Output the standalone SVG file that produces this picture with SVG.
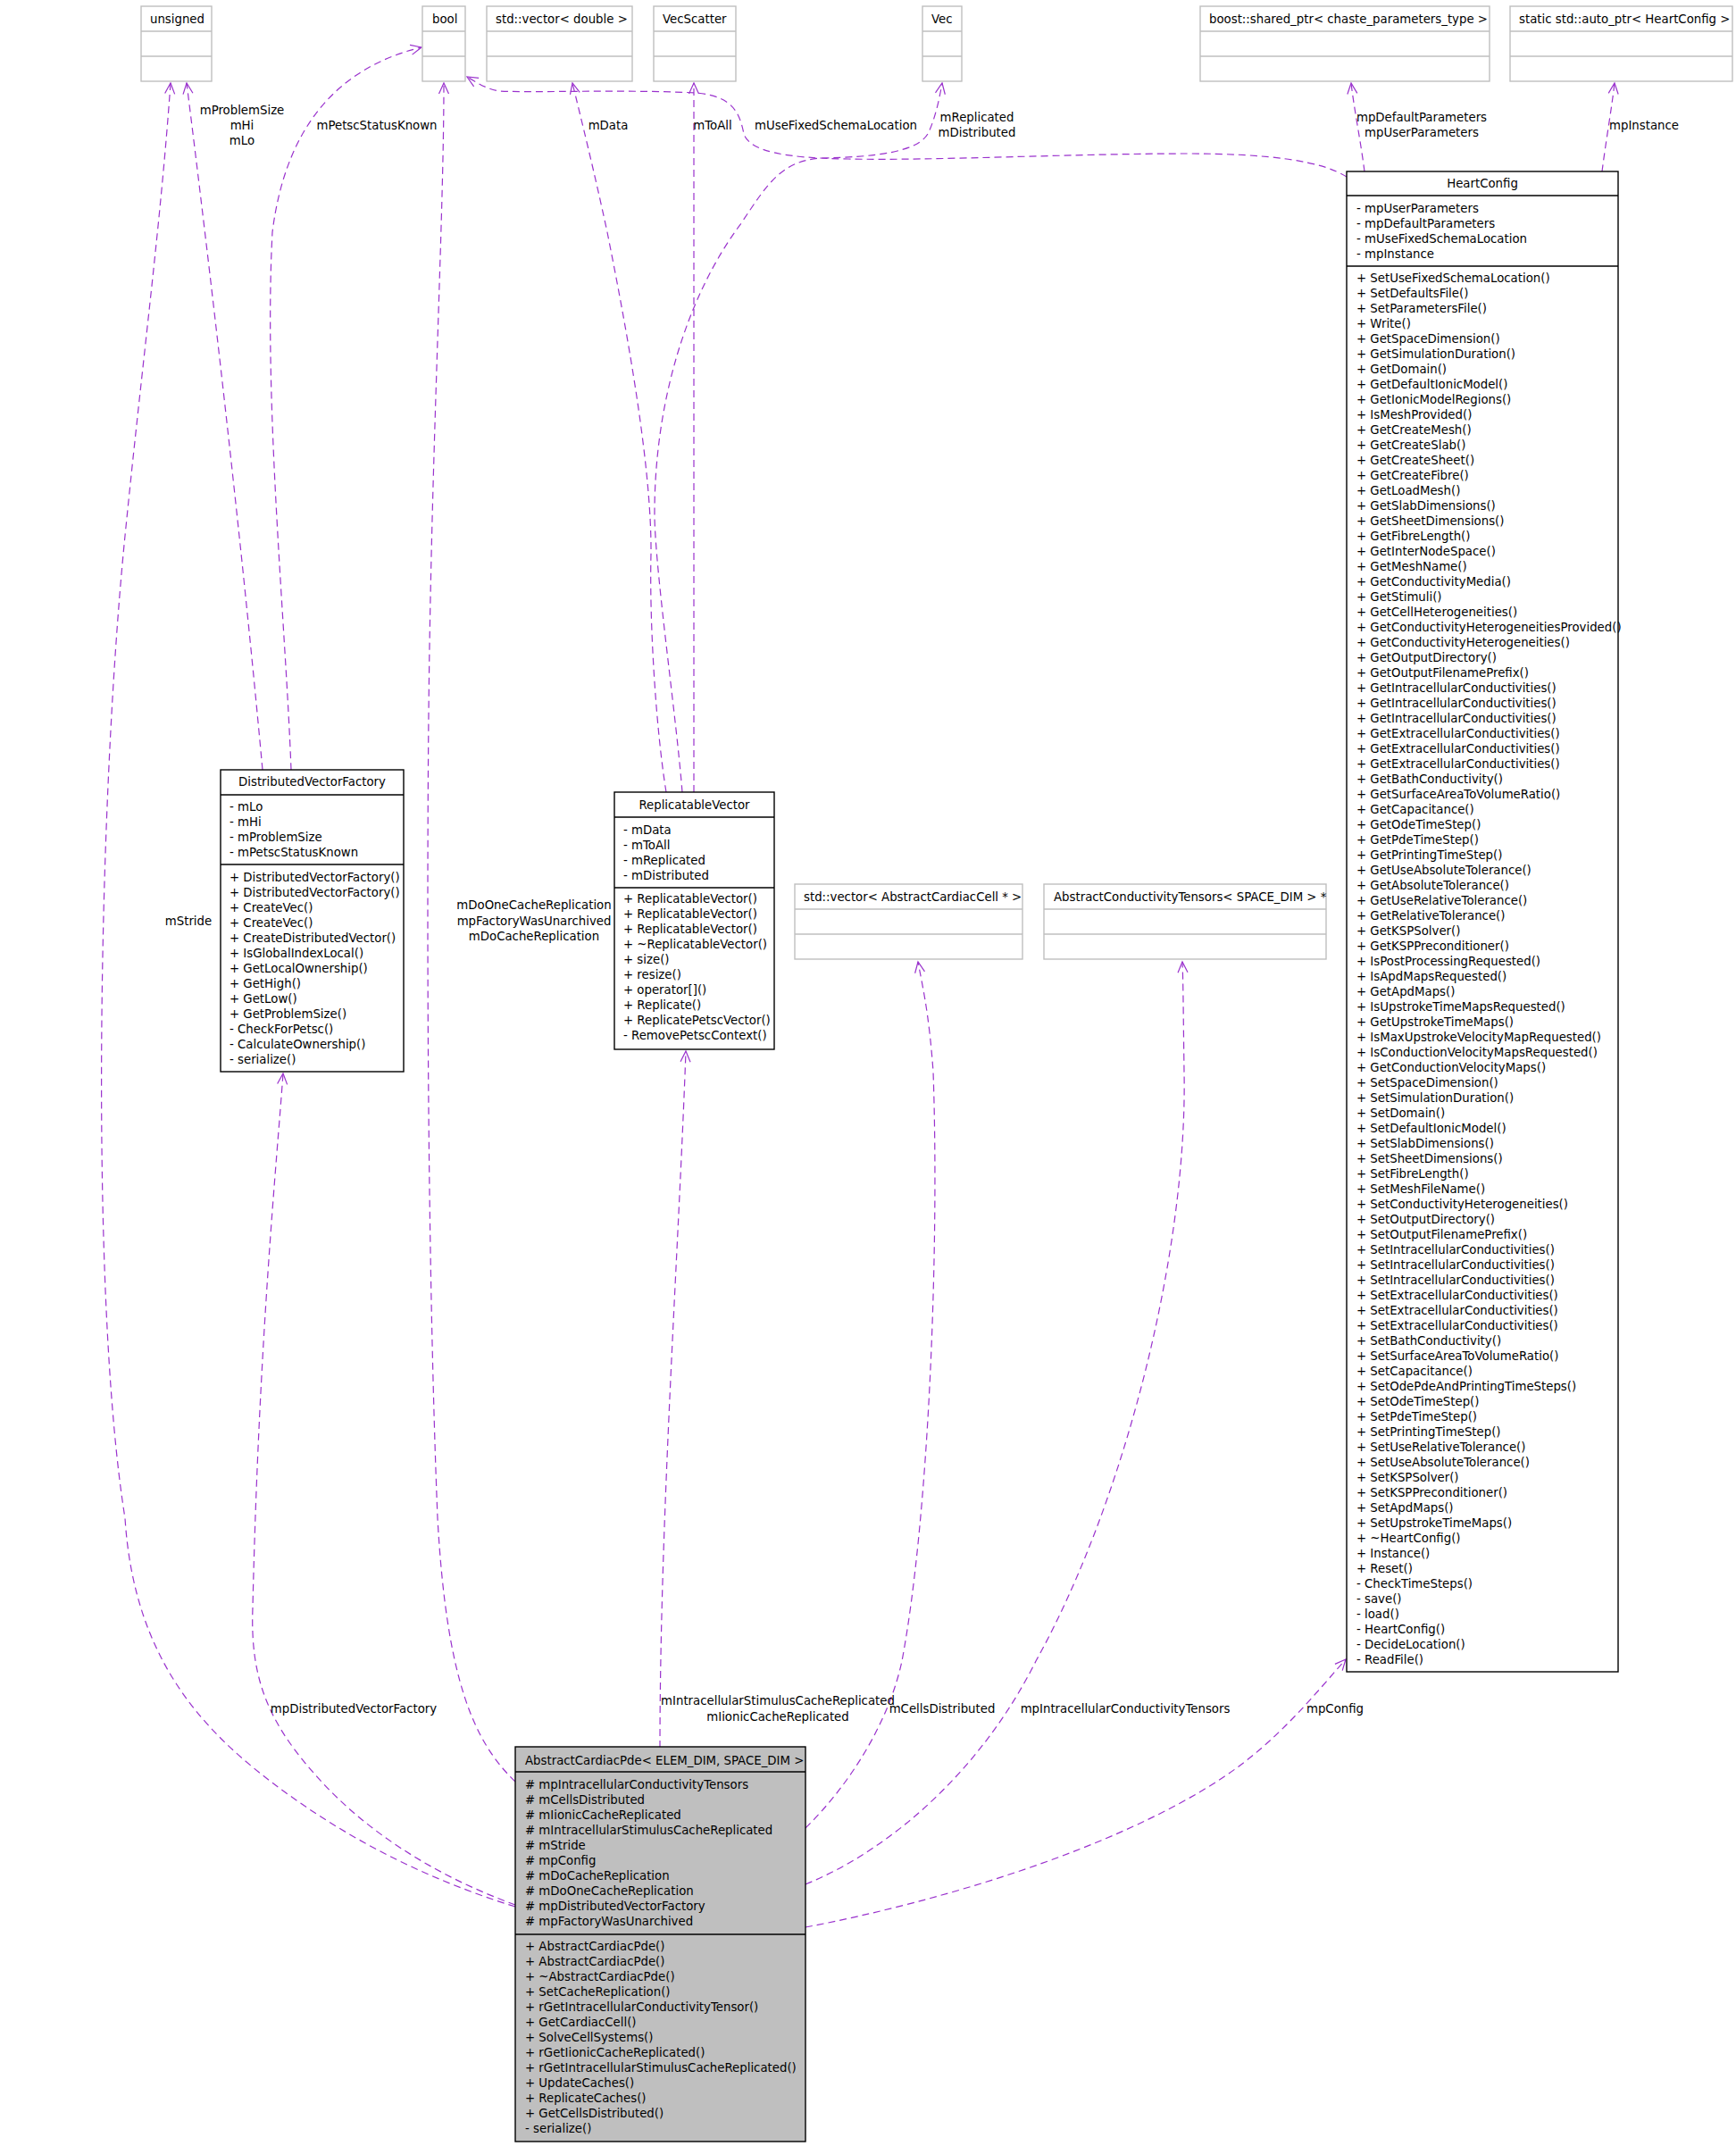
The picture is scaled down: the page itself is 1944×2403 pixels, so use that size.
<svg xmlns="http://www.w3.org/2000/svg" width="1944" height="2403" viewBox="0 0 1944 2403">
<style>
text{font-family:"DejaVu Sans","Liberation Sans",sans-serif;font-size:13.3px;fill:#000}
.ext{fill:#fff;stroke:#bfbfbf;stroke-width:1.4}
.cls{fill:#fff;stroke:#000;stroke-width:1.4}
.cur{fill:#bfbfbf;stroke:#000;stroke-width:1.4}
.sepg{stroke:#bfbfbf;stroke-width:1.4}
.sep{stroke:#000;stroke-width:1.4}
.e{fill:none;stroke:#9a32cd;stroke-width:1.2;stroke-dasharray:8,5;marker-end:url(#arr)}
.m{text-anchor:middle}
</style>
<defs>
<marker id="arr" markerUnits="userSpaceOnUse" markerWidth="16" markerHeight="14" viewBox="0 0 16 14" refX="13" refY="7" orient="auto"><path d="M1,1.5 L13,7 L1,12.5" fill="none" stroke="#9a32cd" stroke-width="1.2"/></marker>
</defs>
<rect width="1944" height="2403" fill="#fff"/>

<g id="connectors">
<path class="e" d="M577,2135 C480,2105 390,2060 310,2000 C230,1940 150,1860 140,1700 C100,1450 110,900 140,600 C160,400 180,250 191,93"/>
<path class="e" d="M294,862 C270,600 235,300 209,93"/>
<path class="e" d="M326,862 C320,700 295,450 305,260 C320,140 380,75 472,53"/>
<path class="e" d="M577,1995 C530,1950 500,1880 490,1700 C478,1400 478,1000 480,800 C483,500 497,250 497,93"/>
<path class="e" d="M1508,198 C1480,180 1420,172 1330,172 C1200,172 1050,180 950,178 C880,177 840,170 833,150 C828,125 820,108 780,104 C700,100 600,104 560,102 C545,100 535,93 523,86"/>
<path class="e" d="M746,887 C735,820 727,700 729,620 C730,520 700,360 680,260 C665,190 650,130 641,93"/>
<path class="e" d="M777,887 L777,93"/>
<path class="e" d="M764,887 C757,800 735,650 733,580 C732,450 770,330 830,250 C860,205 875,180 920,177 C980,176 1030,170 1040,148 C1048,130 1052,110 1055,93"/>
<path class="e" d="M1528,192 C1524,160 1516,120 1513,93"/>
<path class="e" d="M1794,192 C1798,160 1805,120 1808,93"/>
<path class="e" d="M577,2133 C500,2105 420,2060 360,1995 C300,1930 280,1880 283,1800 C290,1500 310,1300 317,1202"/>
<path class="e" d="M739,1957 C739,1700 760,1400 768,1177"/>
<path class="e" d="M902,2047 C950,2000 995,1930 1010,1860 C1040,1700 1052,1400 1045,1200 C1040,1130 1032,1100 1028,1077"/>
<path class="e" d="M902,2110 C1000,2070 1100,1980 1160,1860 C1260,1680 1330,1400 1326,1200 C1325,1130 1325,1100 1324,1077"/>
<path class="e" d="M902,2158 C1050,2130 1250,2070 1370,1990 C1430,1950 1470,1900 1507,1858"/>
<g id="edge-labels">
<text class="m" x="271" y="128">mProblemSize</text>
<text class="m" x="271" y="145">mHi</text>
<text class="m" x="271" y="162">mLo</text>
<text class="m" x="422" y="145">mPetscStatusKnown</text>
<text class="m" x="681" y="145">mData</text>
<text class="m" x="798" y="145">mToAll</text>
<text class="m" x="936" y="145">mUseFixedSchemaLocation</text>
<text class="m" x="1094" y="136">mReplicated</text>
<text class="m" x="1094" y="153">mDistributed</text>
<text class="m" x="1592" y="136">mpDefaultParameters</text>
<text class="m" x="1592" y="153">mpUserParameters</text>
<text class="m" x="1841" y="145">mpInstance</text>
<text class="m" x="211" y="1036">mStride</text>
<text class="m" x="598" y="1018">mDoOneCacheReplication</text>
<text class="m" x="598" y="1036">mpFactoryWasUnarchived</text>
<text class="m" x="598" y="1053">mDoCacheReplication</text>
<text class="m" x="396" y="1918">mpDistributedVectorFactory</text>
<text class="m" x="871" y="1909">mIntracellularStimulusCacheReplicated</text>
<text class="m" x="871" y="1927">mIionicCacheReplicated</text>
<text class="m" x="1055" y="1918">mCellsDistributed</text>
<text class="m" x="1260" y="1918">mpIntracellularConductivityTensors</text>
<text class="m" x="1495" y="1918">mpConfig</text>
</g>
</g>

<g id="unsigned"><rect class="ext" x="158" y="7" width="79" height="84"/><line class="sepg" x1="158" y1="35" x2="237" y2="35"/><line class="sepg" x1="158" y1="63" x2="237" y2="63"/><text x="168" y="26">unsigned</text></g>
<g id="bool"><rect class="ext" x="473" y="7" width="48" height="84"/><line class="sepg" x1="473" y1="35" x2="521" y2="35"/><line class="sepg" x1="473" y1="63" x2="521" y2="63"/><text x="484" y="26">bool</text></g>
<g id="vector-double"><rect class="ext" x="545" y="7" width="163" height="84"/><line class="sepg" x1="545" y1="35" x2="708" y2="35"/><line class="sepg" x1="545" y1="63" x2="708" y2="63"/><text x="555" y="26">std::vector&lt; double &gt;</text></g>
<g id="VecScatter"><rect class="ext" x="732" y="7" width="92" height="84"/><line class="sepg" x1="732" y1="35" x2="824" y2="35"/><line class="sepg" x1="732" y1="63" x2="824" y2="63"/><text x="742" y="26">VecScatter</text></g>
<g id="Vec"><rect class="ext" x="1033" y="7" width="44" height="84"/><line class="sepg" x1="1033" y1="35" x2="1077" y2="35"/><line class="sepg" x1="1033" y1="63" x2="1077" y2="63"/><text x="1043" y="26">Vec</text></g>
<g id="shared-ptr"><rect class="ext" x="1344" y="7" width="324" height="84"/><line class="sepg" x1="1344" y1="35" x2="1668" y2="35"/><line class="sepg" x1="1344" y1="63" x2="1668" y2="63"/><text x="1354" y="26">boost::shared_ptr&lt; chaste_parameters_type &gt;</text></g>
<g id="auto-ptr"><rect class="ext" x="1691" y="7" width="249" height="84"/><line class="sepg" x1="1691" y1="35" x2="1940" y2="35"/><line class="sepg" x1="1691" y1="63" x2="1940" y2="63"/><text x="1701" y="26">static std::auto_ptr&lt; HeartConfig &gt;</text></g>
<g id="vector-cell"><rect class="ext" x="890" y="990" width="255" height="84"/><line class="sepg" x1="890" y1="1018" x2="1145" y2="1018"/><line class="sepg" x1="890" y1="1046" x2="1145" y2="1046"/><text x="900" y="1009">std::vector&lt; AbstractCardiacCell * &gt;</text></g>
<g id="tensors"><rect class="ext" x="1169" y="990" width="316" height="84"/><line class="sepg" x1="1169" y1="1018" x2="1485" y2="1018"/><line class="sepg" x1="1169" y1="1046" x2="1485" y2="1046"/><text x="1180" y="1009">AbstractConductivityTensors&lt; SPACE_DIM &gt; *</text></g>

<g id="DistributedVectorFactory">
<rect class="cls" x="247" y="862" width="205" height="338"/>
<line class="sep" x1="247" y1="890" x2="452" y2="890"/><line class="sep" x1="247" y1="968" x2="452" y2="968"/>
<text class="m" x="349.5" y="880">DistributedVectorFactory</text>
<text x="257" y="908"><tspan x="257">- mLo</tspan><tspan x="257" dy="17">- mHi</tspan><tspan x="257" dy="17">- mProblemSize</tspan><tspan x="257" dy="17">- mPetscStatusKnown</tspan></text>
<text x="257" y="987"><tspan x="257">+ DistributedVectorFactory()</tspan><tspan x="257" dy="17">+ DistributedVectorFactory()</tspan><tspan x="257" dy="17">+ CreateVec()</tspan><tspan x="257" dy="17">+ CreateVec()</tspan><tspan x="257" dy="17">+ CreateDistributedVector()</tspan><tspan x="257" dy="17">+ IsGlobalIndexLocal()</tspan><tspan x="257" dy="17">+ GetLocalOwnership()</tspan><tspan x="257" dy="17">+ GetHigh()</tspan><tspan x="257" dy="17">+ GetLow()</tspan><tspan x="257" dy="17">+ GetProblemSize()</tspan><tspan x="257" dy="17">- CheckForPetsc()</tspan><tspan x="257" dy="17">- CalculateOwnership()</tspan><tspan x="257" dy="17">- serialize()</tspan></text>
</g>

<g id="ReplicatableVector">
<rect class="cls" x="688" y="887" width="179" height="288"/>
<line class="sep" x1="688" y1="915" x2="867" y2="915"/><line class="sep" x1="688" y1="994" x2="867" y2="994"/>
<text class="m" x="777.5" y="906">ReplicatableVector</text>
<text x="698" y="934"><tspan x="698">- mData</tspan><tspan x="698" dy="17">- mToAll</tspan><tspan x="698" dy="17">- mReplicated</tspan><tspan x="698" dy="17">- mDistributed</tspan></text>
<text x="698" y="1011"><tspan x="698">+ ReplicatableVector()</tspan><tspan x="698" dy="17">+ ReplicatableVector()</tspan><tspan x="698" dy="17">+ ReplicatableVector()</tspan><tspan x="698" dy="17">+ ~ReplicatableVector()</tspan><tspan x="698" dy="17">+ size()</tspan><tspan x="698" dy="17">+ resize()</tspan><tspan x="698" dy="17">+ operator[]()</tspan><tspan x="698" dy="17">+ Replicate()</tspan><tspan x="698" dy="17">+ ReplicatePetscVector()</tspan><tspan x="698" dy="17">- RemovePetscContext()</tspan></text>
</g>

<g id="AbstractCardiacPde">
<rect class="cur" x="577" y="1956" width="325" height="442"/>
<line class="sep" x1="577" y1="1984" x2="902" y2="1984"/><line class="sep" x1="577" y1="2166" x2="902" y2="2166"/>
<text x="588" y="1976">AbstractCardiacPde&lt; ELEM_DIM, SPACE_DIM &gt;</text>
<text x="588" y="2003"><tspan x="588"># mpIntracellularConductivityTensors</tspan><tspan x="588" dy="17"># mCellsDistributed</tspan><tspan x="588" dy="17"># mIionicCacheReplicated</tspan><tspan x="588" dy="17"># mIntracellularStimulusCacheReplicated</tspan><tspan x="588" dy="17"># mStride</tspan><tspan x="588" dy="17"># mpConfig</tspan><tspan x="588" dy="17"># mDoCacheReplication</tspan><tspan x="588" dy="17"># mDoOneCacheReplication</tspan><tspan x="588" dy="17"># mpDistributedVectorFactory</tspan><tspan x="588" dy="17"># mpFactoryWasUnarchived</tspan></text>
<text x="588" y="2184"><tspan x="588">+ AbstractCardiacPde()</tspan><tspan x="588" dy="17">+ AbstractCardiacPde()</tspan><tspan x="588" dy="17">+ ~AbstractCardiacPde()</tspan><tspan x="588" dy="17">+ SetCacheReplication()</tspan><tspan x="588" dy="17">+ rGetIntracellularConductivityTensor()</tspan><tspan x="588" dy="17">+ GetCardiacCell()</tspan><tspan x="588" dy="17">+ SolveCellSystems()</tspan><tspan x="588" dy="17">+ rGetIionicCacheReplicated()</tspan><tspan x="588" dy="17">+ rGetIntracellularStimulusCacheReplicated()</tspan><tspan x="588" dy="17">+ UpdateCaches()</tspan><tspan x="588" dy="17">+ ReplicateCaches()</tspan><tspan x="588" dy="17">+ GetCellsDistributed()</tspan><tspan x="588" dy="17">- serialize()</tspan></text>
</g>

<g id="HeartConfig">
<rect class="cls" x="1508" y="192" width="304" height="1680"/>
<line class="sep" x1="1508" y1="219" x2="1812" y2="219"/><line class="sep" x1="1508" y1="298" x2="1812" y2="298"/>
<text class="m" x="1660" y="209.5">HeartConfig</text>
<text x="1519" y="237.5"><tspan x="1519">- mpUserParameters</tspan><tspan x="1519" dy="17">- mpDefaultParameters</tspan><tspan x="1519" dy="17">- mUseFixedSchemaLocation</tspan><tspan x="1519" dy="17">- mpInstance</tspan></text>
<text x="1519" y="316"><tspan x="1519">+ SetUseFixedSchemaLocation()</tspan><tspan x="1519" dy="17">+ SetDefaultsFile()</tspan><tspan x="1519" dy="17">+ SetParametersFile()</tspan><tspan x="1519" dy="17">+ Write()</tspan><tspan x="1519" dy="17">+ GetSpaceDimension()</tspan><tspan x="1519" dy="17">+ GetSimulationDuration()</tspan><tspan x="1519" dy="17">+ GetDomain()</tspan><tspan x="1519" dy="17">+ GetDefaultIonicModel()</tspan><tspan x="1519" dy="17">+ GetIonicModelRegions()</tspan><tspan x="1519" dy="17">+ IsMeshProvided()</tspan><tspan x="1519" dy="17">+ GetCreateMesh()</tspan><tspan x="1519" dy="17">+ GetCreateSlab()</tspan><tspan x="1519" dy="17">+ GetCreateSheet()</tspan><tspan x="1519" dy="17">+ GetCreateFibre()</tspan><tspan x="1519" dy="17">+ GetLoadMesh()</tspan><tspan x="1519" dy="17">+ GetSlabDimensions()</tspan><tspan x="1519" dy="17">+ GetSheetDimensions()</tspan><tspan x="1519" dy="17">+ GetFibreLength()</tspan><tspan x="1519" dy="17">+ GetInterNodeSpace()</tspan><tspan x="1519" dy="17">+ GetMeshName()</tspan><tspan x="1519" dy="17">+ GetConductivityMedia()</tspan><tspan x="1519" dy="17">+ GetStimuli()</tspan><tspan x="1519" dy="17">+ GetCellHeterogeneities()</tspan><tspan x="1519" dy="17">+ GetConductivityHeterogeneitiesProvided()</tspan><tspan x="1519" dy="17">+ GetConductivityHeterogeneities()</tspan><tspan x="1519" dy="17">+ GetOutputDirectory()</tspan><tspan x="1519" dy="17">+ GetOutputFilenamePrefix()</tspan><tspan x="1519" dy="17">+ GetIntracellularConductivities()</tspan><tspan x="1519" dy="17">+ GetIntracellularConductivities()</tspan><tspan x="1519" dy="17">+ GetIntracellularConductivities()</tspan><tspan x="1519" dy="17">+ GetExtracellularConductivities()</tspan><tspan x="1519" dy="17">+ GetExtracellularConductivities()</tspan><tspan x="1519" dy="17">+ GetExtracellularConductivities()</tspan><tspan x="1519" dy="17">+ GetBathConductivity()</tspan><tspan x="1519" dy="17">+ GetSurfaceAreaToVolumeRatio()</tspan><tspan x="1519" dy="17">+ GetCapacitance()</tspan><tspan x="1519" dy="17">+ GetOdeTimeStep()</tspan><tspan x="1519" dy="17">+ GetPdeTimeStep()</tspan><tspan x="1519" dy="17">+ GetPrintingTimeStep()</tspan><tspan x="1519" dy="17">+ GetUseAbsoluteTolerance()</tspan><tspan x="1519" dy="17">+ GetAbsoluteTolerance()</tspan><tspan x="1519" dy="17">+ GetUseRelativeTolerance()</tspan><tspan x="1519" dy="17">+ GetRelativeTolerance()</tspan><tspan x="1519" dy="17">+ GetKSPSolver()</tspan><tspan x="1519" dy="17">+ GetKSPPreconditioner()</tspan><tspan x="1519" dy="17">+ IsPostProcessingRequested()</tspan><tspan x="1519" dy="17">+ IsApdMapsRequested()</tspan><tspan x="1519" dy="17">+ GetApdMaps()</tspan><tspan x="1519" dy="17">+ IsUpstrokeTimeMapsRequested()</tspan><tspan x="1519" dy="17">+ GetUpstrokeTimeMaps()</tspan><tspan x="1519" dy="17">+ IsMaxUpstrokeVelocityMapRequested()</tspan><tspan x="1519" dy="17">+ IsConductionVelocityMapsRequested()</tspan><tspan x="1519" dy="17">+ GetConductionVelocityMaps()</tspan><tspan x="1519" dy="17">+ SetSpaceDimension()</tspan><tspan x="1519" dy="17">+ SetSimulationDuration()</tspan><tspan x="1519" dy="17">+ SetDomain()</tspan><tspan x="1519" dy="17">+ SetDefaultIonicModel()</tspan><tspan x="1519" dy="17">+ SetSlabDimensions()</tspan><tspan x="1519" dy="17">+ SetSheetDimensions()</tspan><tspan x="1519" dy="17">+ SetFibreLength()</tspan><tspan x="1519" dy="17">+ SetMeshFileName()</tspan><tspan x="1519" dy="17">+ SetConductivityHeterogeneities()</tspan><tspan x="1519" dy="17">+ SetOutputDirectory()</tspan><tspan x="1519" dy="17">+ SetOutputFilenamePrefix()</tspan><tspan x="1519" dy="17">+ SetIntracellularConductivities()</tspan><tspan x="1519" dy="17">+ SetIntracellularConductivities()</tspan><tspan x="1519" dy="17">+ SetIntracellularConductivities()</tspan><tspan x="1519" dy="17">+ SetExtracellularConductivities()</tspan><tspan x="1519" dy="17">+ SetExtracellularConductivities()</tspan><tspan x="1519" dy="17">+ SetExtracellularConductivities()</tspan><tspan x="1519" dy="17">+ SetBathConductivity()</tspan><tspan x="1519" dy="17">+ SetSurfaceAreaToVolumeRatio()</tspan><tspan x="1519" dy="17">+ SetCapacitance()</tspan><tspan x="1519" dy="17">+ SetOdePdeAndPrintingTimeSteps()</tspan><tspan x="1519" dy="17">+ SetOdeTimeStep()</tspan><tspan x="1519" dy="17">+ SetPdeTimeStep()</tspan><tspan x="1519" dy="17">+ SetPrintingTimeStep()</tspan><tspan x="1519" dy="17">+ SetUseRelativeTolerance()</tspan><tspan x="1519" dy="17">+ SetUseAbsoluteTolerance()</tspan><tspan x="1519" dy="17">+ SetKSPSolver()</tspan><tspan x="1519" dy="17">+ SetKSPPreconditioner()</tspan><tspan x="1519" dy="17">+ SetApdMaps()</tspan><tspan x="1519" dy="17">+ SetUpstrokeTimeMaps()</tspan><tspan x="1519" dy="17">+ ~HeartConfig()</tspan><tspan x="1519" dy="17">+ Instance()</tspan><tspan x="1519" dy="17">+ Reset()</tspan><tspan x="1519" dy="17">- CheckTimeSteps()</tspan><tspan x="1519" dy="17">- save()</tspan><tspan x="1519" dy="17">- load()</tspan><tspan x="1519" dy="17">- HeartConfig()</tspan><tspan x="1519" dy="17">- DecideLocation()</tspan><tspan x="1519" dy="17">- ReadFile()</tspan></text>
</g>
</svg>
